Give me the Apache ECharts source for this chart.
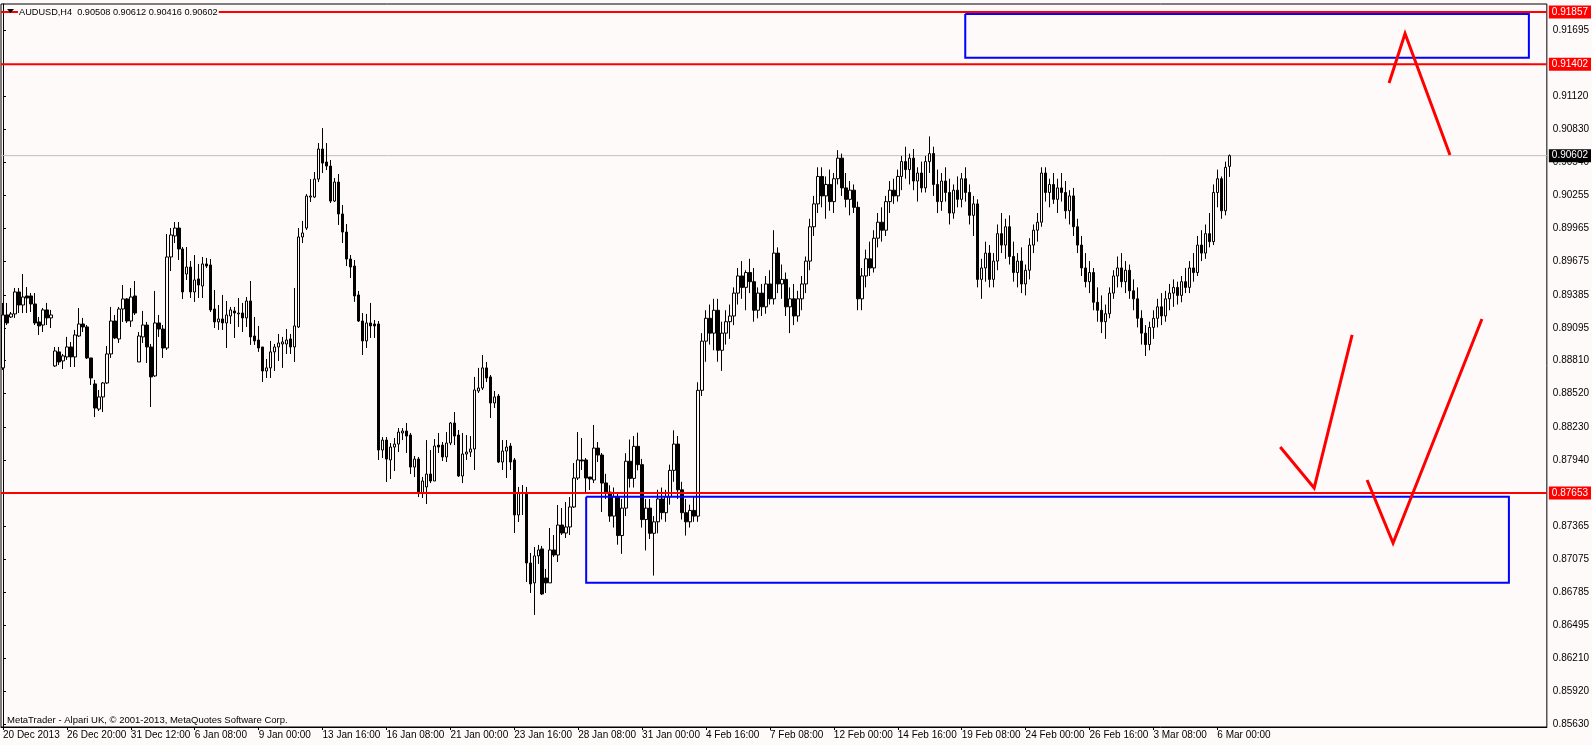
<!DOCTYPE html>
<html><head><meta charset="utf-8">
<script src="https://cdn.jsdelivr.net/npm/echarts@6/dist/echarts.min.js"></script>
<style>html,body{margin:0;padding:0;background:#fffafa;}#chart{width:1592px;height:745px;}</style>
</head><body><div id="chart"></div>
<script>
const symbolTitle = 'AUDUSD,H4  0.90508 0.90612 0.90416 0.90602';
const footerText = 'MetaTrader - Alpari UK, \u00a9 2001-2013, MetaQuotes Software Corp.';
const xTickLabels = ['20 Dec 2013','26 Dec 20:00','31 Dec 12:00','6 Jan 08:00','9 Jan 00:00','13 Jan 16:00','16 Jan 08:00','21 Jan 00:00','23 Jan 16:00','28 Jan 08:00','31 Jan 00:00','4 Feb 16:00','7 Feb 08:00','12 Feb 00:00','14 Feb 16:00','19 Feb 08:00','24 Feb 00:00','26 Feb 16:00','3 Mar 08:00','6 Mar 00:00'];
const yTickValues = [0.91695,0.91120,0.90830,0.90540,0.90255,0.89965,0.89675,0.89385,0.89095,0.88810,0.88520,0.88230,0.87940,0.87365,0.87075,0.86785,0.86495,0.86210,0.85920,0.85630];
// [open, high, low, close]
const candles = [
[0.88746,0.89314,0.88728,0.89209],[0.89209,0.89314,0.89121,0.89139],[0.89191,0.89235,0.89183,0.89218],[0.89218,0.89445,0.89183,0.89410],
[0.89410,0.89445,0.89226,0.89296],[0.89296,0.89567,0.89226,0.89366],[0.89375,0.89453,0.89226,0.89357],[0.89375,0.89401,0.89235,0.89305],
[0.89305,0.89401,0.89121,0.89139],[0.89148,0.89191,0.89034,0.89113],[0.89121,0.89270,0.89060,0.89253],[0.89253,0.89314,0.89121,0.89183],
[0.89183,0.89253,0.89095,0.89209],[0.88763,0.88929,0.88754,0.88894],[0.88886,0.88929,0.88772,0.88798],[0.88807,0.88868,0.88737,0.88851],
[0.88842,0.89017,0.88816,0.88929],[0.88929,0.88973,0.88754,0.88842],[0.88842,0.89078,0.88754,0.89034],[0.89025,0.89270,0.89017,0.89130],
[0.89130,0.89183,0.89060,0.89104],[0.89104,0.89121,0.88824,0.88833],[0.88833,0.88833,0.88597,0.88658],[0.88606,0.88641,0.88316,0.88395],
[0.88386,0.88553,0.88369,0.88492],[0.88492,0.88623,0.88360,0.88614],[0.88614,0.88938,0.88606,0.88868],[0.88868,0.89279,0.88833,0.89156],
[0.89156,0.89209,0.88999,0.89008],[0.88999,0.89279,0.88964,0.89261],[0.89261,0.89471,0.89148,0.89349],[0.89349,0.89357,0.89139,0.89156],
[0.89156,0.89445,0.89104,0.89366],[0.89375,0.89506,0.89209,0.89226],[0.88798,0.89060,0.88798,0.89025],[0.89017,0.89244,0.88964,0.89121],
[0.89121,0.89148,0.88789,0.88929],[0.88929,0.88955,0.88404,0.88667],[0.88676,0.89419,0.88667,0.89139],[0.89139,0.89209,0.89017,0.89086],
[0.89086,0.89121,0.88833,0.88920],[0.88920,0.89917,0.88903,0.89716],[0.89716,0.89969,0.89593,0.89908],[0.89900,0.90022,0.89838,0.89969],
[0.89969,0.90022,0.89690,0.89786],[0.89786,0.89803,0.89349,0.89410],[0.89567,0.89803,0.89515,0.89628],[0.89628,0.89681,0.89357,0.89410],
[0.89410,0.89733,0.89323,0.89515],[0.89524,0.89655,0.89357,0.89471],[0.89462,0.89716,0.89357,0.89655],[0.89655,0.89707,0.89620,0.89637],
[0.89646,0.89698,0.89235,0.89253],[0.89261,0.89427,0.89095,0.89148],[0.89148,0.89296,0.89078,0.89174],[0.89174,0.89384,0.89078,0.89139],
[0.89139,0.89331,0.88920,0.89209],[0.89200,0.89279,0.89130,0.89253],[0.89244,0.89279,0.89008,0.89226],[0.89218,0.89357,0.89104,0.89226],
[0.89226,0.89314,0.89060,0.89183],[0.89183,0.89366,0.89104,0.89331],[0.89331,0.89506,0.88947,0.89017],[0.89025,0.89191,0.88947,0.88982],
[0.88990,0.89113,0.88886,0.88920],[0.88929,0.88929,0.88623,0.88719],[0.88719,0.88824,0.88658,0.88746],[0.88746,0.88982,0.88658,0.88886],
[0.88886,0.88955,0.88719,0.88929],[0.88929,0.89043,0.88807,0.88964],[0.88955,0.89017,0.88746,0.88973],[0.88955,0.89086,0.88868,0.88990],
[0.88999,0.89043,0.88868,0.88929],[0.88929,0.89445,0.88798,0.89113],[0.89104,0.89969,0.89095,0.89891],[0.89891,0.90031,0.89838,0.89926],
[0.89969,0.90266,0.89952,0.90249],[0.90240,0.90397,0.90197,0.90249],[0.90240,0.90459,0.90232,0.90397],[0.90397,0.90712,0.90371,0.90660],
[0.90660,0.90843,0.90450,0.90537],[0.90546,0.90712,0.90476,0.90511],[0.90511,0.90564,0.90188,0.90205],[0.90205,0.90406,0.90197,0.90371],
[0.90371,0.90441,0.89996,0.90092],[0.90092,0.90170,0.89838,0.89934],[0.89934,0.90004,0.89637,0.89698],[0.89698,0.89733,0.89532,0.89628],
[0.89637,0.89690,0.89323,0.89375],[0.89384,0.89419,0.89148,0.89156],[0.89156,0.89226,0.88859,0.88982],[0.88982,0.89218,0.88920,0.89139],
[0.89139,0.89314,0.89008,0.89113],[0.89130,0.89165,0.89008,0.89113],[0.89130,0.89156,0.87941,0.88028],[0.88028,0.88142,0.87958,0.88115],
[0.88115,0.88142,0.87748,0.87949],[0.87941,0.88089,0.87774,0.88054],[0.88054,0.88133,0.87844,0.88080],[0.88080,0.88220,0.88010,0.88185],
[0.88177,0.88220,0.88115,0.88194],[0.88194,0.88264,0.88002,0.88150],[0.88159,0.88177,0.87818,0.87879],[0.87879,0.87976,0.87792,0.87949],
[0.87949,0.87967,0.87617,0.87652],[0.87652,0.87792,0.87608,0.87757],[0.87705,0.88115,0.87556,0.87818],[0.87818,0.88028,0.87739,0.87757],
[0.87757,0.88124,0.87757,0.88063],[0.88071,0.88177,0.88002,0.88054],[0.88071,0.88098,0.87932,0.87967],[0.87967,0.88185,0.87923,0.88089],
[0.88089,0.88273,0.88071,0.88264],[0.88264,0.88360,0.88071,0.88150],[0.88159,0.88203,0.87792,0.87801],[0.87801,0.88177,0.87739,0.87993],
[0.87993,0.88159,0.87941,0.88010],[0.88010,0.88150,0.87967,0.88037],[0.88037,0.88667,0.87853,0.88553],[0.88544,0.88746,0.88527,0.88570],
[0.88570,0.88859,0.88553,0.88746],[0.88746,0.88798,0.88623,0.88658],[0.88667,0.88684,0.88308,0.88439],[0.88439,0.88544,0.88395,0.88492],
[0.88500,0.88518,0.87914,0.87923],[0.87923,0.88115,0.87853,0.88019],[0.88019,0.88115,0.87783,0.88054],[0.88063,0.88089,0.87853,0.87923],
[0.87941,0.87958,0.87302,0.87460],[0.87460,0.87705,0.87399,0.87652],[0.87648,0.87722,0.87460,0.87656],[0.87652,0.87705,0.86874,0.87040],
[0.87040,0.87128,0.86778,0.86857],[0.86866,0.87180,0.86586,0.87102],[0.87102,0.87198,0.87032,0.87154],[0.87163,0.87189,0.86760,0.86769],
[0.86909,0.86988,0.86778,0.86866],[0.86866,0.87346,0.86866,0.87154],[0.87154,0.87285,0.87093,0.87110],[0.87110,0.87547,0.87049,0.87372],
[0.87372,0.87521,0.87285,0.87302],[0.87302,0.87573,0.87259,0.87355],[0.87355,0.87617,0.87285,0.87530],[0.87530,0.87914,0.87521,0.87783],
[0.87783,0.88185,0.87766,0.87941],[0.87941,0.88133,0.87853,0.87932],[0.87941,0.87958,0.87652,0.87783],[0.87792,0.87792,0.87678,0.87774],
[0.87766,0.88247,0.87739,0.88045],[0.88045,0.88098,0.87923,0.87984],[0.87984,0.88002,0.87486,0.87739],
[0.8774,0.8782,0.8760,0.8766],[0.8766,0.8772,0.8740,0.8745],[0.8745,0.8770,0.8735,0.8762],[0.8762,0.8766,0.8720,0.8728],
[0.8728,0.8760,0.8712,0.8752],[0.8752,0.8800,0.8745,0.8793],[0.8793,0.8812,0.8770,0.8778],[0.8778,0.8815,0.8770,0.8806],
[0.8806,0.8818,0.8785,0.8790],[0.8790,0.8795,0.8735,0.8742],[0.8742,0.8760,0.8715,0.8752],[0.8752,0.8760,0.8725,0.8730],
[0.8730,0.8745,0.8693,0.8740],[0.8740,0.8768,0.8730,0.8760],[0.8760,0.8770,0.8742,0.8748],[0.8748,0.8768,0.8740,0.8762],
[0.8762,0.8790,0.8755,0.8785],[0.8785,0.8820,0.8775,0.8808],[0.8808,0.8815,0.8760,0.8768],[0.8768,0.8775,0.8742,0.8748],
[0.8748,0.8760,0.8728,0.8740],[0.8740,0.8755,0.8735,0.8750],[0.8750,0.8762,0.8740,0.8745],[0.8745,0.8862,0.8740,0.8855],
[0.8855,0.8905,0.8850,0.8898],[0.8898,0.8925,0.8880,0.8918],[0.8918,0.8930,0.8895,0.8905],[0.8905,0.8935,0.8890,0.8925],
[0.8925,0.8935,0.8880,0.8890],[0.8890,0.8915,0.8872,0.8905],[0.8905,0.8925,0.8895,0.8915],[0.8915,0.8930,0.8900,0.8920],
[0.8920,0.8945,0.8912,0.8940],[0.8940,0.8962,0.8930,0.8955],[0.8955,0.8968,0.8935,0.8945],[0.8945,0.8960,0.8925,0.8958],
[0.8958,0.8970,0.8940,0.8950],[0.8950,0.8962,0.8915,0.8925],[0.8925,0.8945,0.8918,0.8940],[0.8940,0.8948,0.8920,0.8928],
[0.8928,0.8955,0.8922,0.8948],[0.8948,0.8960,0.8930,0.8935],[0.8935,0.8995,0.8930,0.8975],[0.8975,0.8980,0.8940,0.8948],
[0.8948,0.8965,0.8935,0.8952],[0.8952,0.8958,0.8920,0.8928],[0.8928,0.8945,0.8905,0.8935],[0.8935,0.8948,0.8912,0.8920],
[0.8920,0.8942,0.8915,0.8935],[0.8935,0.8955,0.8925,0.8948],[0.8948,0.8972,0.8940,0.8968],[0.8968,0.9005,0.8960,0.8998],
[0.8998,0.9025,0.8990,0.9018],[0.9018,0.9050,0.9010,0.9042],[0.9042,0.9050,0.9015,0.9025],[0.9025,0.9042,0.9005,0.9035],
[0.9035,0.9048,0.9012,0.9020],[0.9020,0.9045,0.9010,0.9040],[0.9040,0.9065,0.9035,0.9058],[0.9058,0.9062,0.9025,0.9032],
[0.9032,0.9045,0.9015,0.9022],[0.9022,0.9038,0.9008,0.9030],[0.9030,0.9035,0.9010,0.9015],[0.9015,0.9020,0.8925,0.8935],
[0.8935,0.8962,0.8925,0.8955],[0.8955,0.8978,0.8945,0.8970],[0.8970,0.8985,0.8955,0.8962],[0.8962,0.8995,0.8958,0.8988],
[0.8988,0.9010,0.8980,0.9002],[0.9002,0.9015,0.8985,0.8995],[0.8995,0.9025,0.8990,0.9020],[0.9020,0.9038,0.9010,0.9030],
[0.9030,0.9040,0.9018,0.9025],[0.9025,0.9048,0.9020,0.9042],[0.9042,0.9060,0.9030,0.9055],[0.9055,0.9068,0.9040,0.9048],
[0.9048,0.9062,0.9035,0.9058],[0.9058,0.9066,0.9030,0.9038],[0.9038,0.9050,0.9020,0.9045],[0.9045,0.9055,0.9028,0.9032],
[0.9032,0.9060,0.9028,0.9055],[0.9055,0.9077,0.9045,0.9062],[0.9062,0.9068,0.9025,0.9035],[0.9035,0.9048,0.9010,0.9020],
[0.9020,0.9045,0.9012,0.9038],[0.9038,0.9050,0.9020,0.9028],[0.9028,0.9040,0.9000,0.9010],[0.9010,0.9035,0.9005,0.9030],
[0.9030,0.9042,0.9015,0.9022],[0.9022,0.9045,0.9015,0.9040],[0.9040,0.9050,0.9020,0.9028],[0.9028,0.9035,0.9000,0.9008],
[0.9008,0.9025,0.8990,0.9018],[0.9018,0.9022,0.8945,0.8952],[0.8952,0.8970,0.8935,0.8962],[0.8962,0.8985,0.8950,0.8975],
[0.8975,0.8982,0.8945,0.8952],[0.8952,0.8975,0.8945,0.8968],[0.8968,0.9000,0.8960,0.8992],[0.8992,0.9010,0.8975,0.8982],
[0.8982,0.9005,0.8970,0.8998],[0.8998,0.9008,0.8965,0.8972],[0.8972,0.8985,0.8950,0.8958],[0.8958,0.8975,0.8945,0.8968],
[0.8968,0.8980,0.8940,0.8948],[0.8948,0.8965,0.8938,0.8960],[0.8960,0.8988,0.8952,0.8982],[0.8982,0.9000,0.8975,0.8995],
[0.8995,0.9010,0.8985,0.9002],[0.9002,0.9050,0.8998,0.9045],[0.9045,0.9050,0.9020,0.9028],[0.9028,0.9040,0.9015,0.9035],
[0.9035,0.9045,0.9018,0.9022],[0.9022,0.9040,0.9010,0.9032],[0.9032,0.9045,0.9020,0.9028],[0.9028,0.9038,0.9005,0.9012],
[0.9012,0.9030,0.9000,0.9025],[0.9025,0.9032,0.8990,0.8998],[0.8998,0.9005,0.8975,0.8982],[0.8982,0.8990,0.8955,0.8962],
[0.8962,0.8975,0.8945,0.8950],[0.8950,0.8968,0.8940,0.8958],[0.8958,0.8962,0.8925,0.8932],[0.8932,0.8945,0.8915,0.8925],
[0.8925,0.8938,0.8905,0.8915],[0.8915,0.8930,0.8900,0.8922],[0.8922,0.8945,0.8918,0.8940],[0.8940,0.8960,0.8935,0.8955],
[0.8955,0.8972,0.8945,0.8962],[0.8962,0.8975,0.8945,0.8950],[0.8950,0.8968,0.8940,0.8960],[0.8960,0.8965,0.8935,0.8942],
[0.8942,0.8952,0.8925,0.8935],[0.8935,0.8945,0.8910,0.8918],[0.8918,0.8925,0.8895,0.8905],[0.8905,0.8912,0.8885,0.8895],
[0.8895,0.8915,0.8890,0.8910],[0.8910,0.8925,0.8900,0.8918],[0.8918,0.8935,0.8910,0.8928],[0.8928,0.8940,0.8912,0.8920],
[0.8920,0.8942,0.8915,0.8935],[0.8935,0.8948,0.8925,0.8940],[0.8940,0.8952,0.8928,0.8945],[0.8945,0.8950,0.8930,0.8938],
[0.8938,0.8955,0.8932,0.8950],[0.8950,0.8962,0.8940,0.8945],[0.8945,0.8968,0.8940,0.8962],[0.8962,0.8975,0.8950,0.8958],
[0.8958,0.8990,0.8955,0.8982],[0.8982,0.8995,0.8968,0.8975],[0.8975,0.9000,0.8970,0.8992],[0.8992,0.9010,0.8980,0.8985],
[0.8985,0.9035,0.8982,0.9028],[0.9028,0.9048,0.9015,0.9040],[0.9040,0.9042,0.9005,0.9012],[0.9012,0.9055,0.9008,0.9050],
[0.90508,0.90612,0.90416,0.90602]
];
const levelLines = [0.91857, 0.91402, 0.87653];
const lastPrice = 0.90602;
// rectangles: [fromBar, toBar, topPrice, bottomPrice]
const zoneUpper = [240.9, 382, 0.91841, 0.91458];
const zoneLower = [146, 377, 0.87620, 0.86868];
// hand-drawn arrows: [bar, price]
const arrowTop = [[347, 0.91237], [351, 0.91670], [362.25, 0.90608]];
const arrowMid = [[319.75, 0.88054], [328.25, 0.87696], [337.75, 0.89034]];
const arrowRight = [[341.5, 0.87766], [348, 0.87215], [370.25, 0.89174]];

const SLOTS = 387, LABEL_EVERY = 16;
const categories = Array.from({length: SLOTS}, (_, i) =>
  (i % LABEL_EVERY === 0 && i / LABEL_EVERY < xTickLabels.length) ? xTickLabels[i / LABEL_EVERY] : String(i));
const showTick = (i) => i % LABEL_EVERY === 0 && i / LABEL_EVERY < xTickLabels.length;
const candleData = candles.map(c => [c[0], c[3], c[2], c[1]]);
const rectPath = z => [[z[0], z[2]], [z[1], z[2]], [z[1], z[3]], [z[0], z[3]], [z[0], z[2]]];
const FONT = '"Liberation Sans", Arial, sans-serif';

const polySeries = (pts, color, width, z) => ({
  type: 'line', xAxisIndex: 1, yAxisIndex: 0, data: pts, showSymbol: false, symbol: 'none',
  silent: true, animation: false, z: z || 5,
  lineStyle: {color: color, width: width, join: 'miter'}
});
const levelSeries = (v, color, width, bg) => Object.assign(polySeries([[-0.5, v], [SLOTS - 0.5, v]], color, width, bg === '#000' ? 2 : 4), {
  endLabel: {show: true, formatter: () => v.toFixed(5), distance: 2, backgroundColor: bg, color: '#fff',
    padding: [2, 3, 1, 3], fontSize: 10, fontFamily: FONT, align: 'left', verticalAlign: 'middle'}
});

const chart = echarts.init(document.getElementById('chart'), null, {renderer: 'canvas'});
chart.setOption({
  backgroundColor: '#fffafa',
  animation: false,
  grid: {left: 1, right: 43, top: 4, bottom: 18, show: true, borderColor: '#000', borderWidth: 1, backgroundColor: 'transparent'},
  xAxis: [{
    type: 'category', data: categories, boundaryGap: true,
    axisLine: {show: true, lineStyle: {color: '#000', width: 1}},
    axisTick: {show: true, interval: (i) => showTick(i), alignWithLabel: true, length: 3, lineStyle: {color: '#000'}},
    axisLabel: {interval: (i) => showTick(i), align: 'left', color: '#000', fontSize: 10, fontFamily: FONT, margin: 3},
    splitLine: {show: false}
  }, {
    type: 'value', min: -0.5, max: SLOTS - 0.5, show: false
  }],
  yAxis: [{
    type: 'value', position: 'right', min: 0.85606, max: 0.91928, scale: true,
    axisLine: {show: true, lineStyle: {color: '#000', width: 1}},
    axisTick: {show: true, customValues: yTickValues, length: 3, lineStyle: {color: '#000'}},
    axisLabel: {customValues: yTickValues, formatter: v => v.toFixed(5), color: '#000', fontSize: 10, fontFamily: FONT, margin: 6},
    splitLine: {show: false}
  }],
  series: [
    levelSeries(lastPrice, '#c0c0c0', 1, '#000'),
    {
      type: 'candlestick', xAxisIndex: 0, yAxisIndex: 0, data: candleData, barWidth: 3, silent: true, z: 3,
      itemStyle: {color: '#fffafa', color0: '#000', borderColor: '#000', borderColor0: '#000', borderWidth: 1}
    },
    ...levelLines.map(v => levelSeries(v, '#ff0000', 2, '#ff0000')),
    polySeries(rectPath(zoneUpper), '#0000ff', 2),
    polySeries(rectPath(zoneLower), '#0000ff', 2),
    polySeries(arrowTop, '#ff0000', 3),
    polySeries(arrowMid, '#ff0000', 3),
    polySeries(arrowRight, '#ff0000', 3)
  ],
  graphic: [
    {type: 'polygon', z: 100, shape: {points: [[7, 9], [14, 9], [10.5, 13]]}, style: {fill: '#000'}},
    {type: 'text', z: 100, x: 18, y: 12, style: {text: symbolTitle, fill: '#000', font: '9.2px ' + FONT, verticalAlign: 'middle', backgroundColor: '#fffafa', padding: [1, 1, 1, 1]}},
    {type: 'text', z: 100, x: 7, y: 720, style: {text: footerText, fill: '#000', font: '9.5px ' + FONT, verticalAlign: 'middle'}}
  ]
});
</script></body></html>
